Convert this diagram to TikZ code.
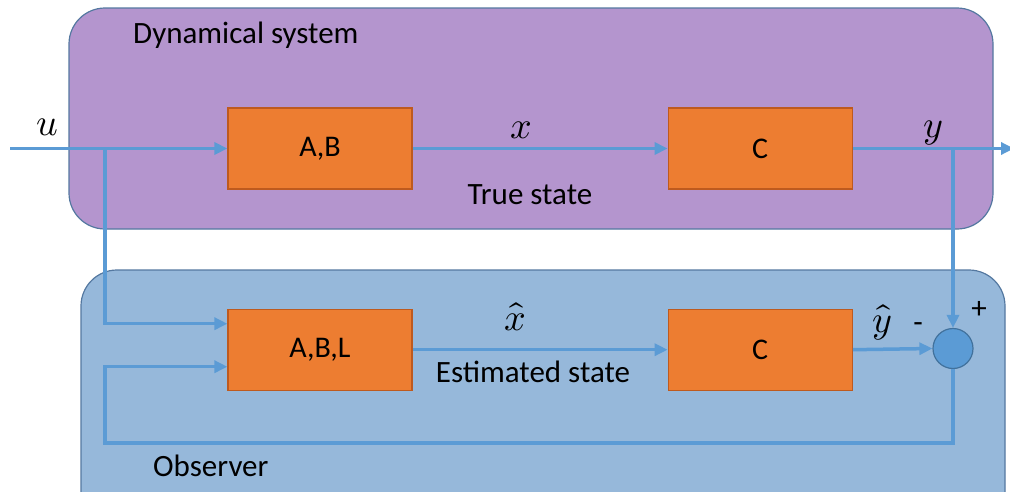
\documentclass[tikz,border=0pt]{standalone}
\usepackage{fontspec}
\usepackage{unicode-math}
\setmainfont{Carlito}
\setmathfont{Latin Modern Math}
\usetikzlibrary{arrows.meta, positioning}

\definecolor{sysfill}{RGB}{180,149,206}
\definecolor{obsfill}{RGB}{150,184,218}
\definecolor{frameline}{RGB}{84,120,160}
\definecolor{blockfill}{RGB}{237,125,49}
\definecolor{blockline}{RGB}{190,90,30}
\definecolor{sigline}{RGB}{91,155,213}
\definecolor{sumline}{RGB}{65,113,156}

\tikzset{
  panel/.style={draw=frameline, line width=1.2pt, rounded corners=36pt},
  block/.style={draw=blockline, fill=blockfill, line width=1.2pt,
                minimum width=184pt, minimum height=81pt, inner sep=0pt,
                font=\fontsize{30}{34}\selectfont},
  signal/.style={draw=sigline, line width=3.5pt, -{Triangle[length=13pt,width=12pt]}},
  sumnode/.style={circle, draw=sumline, fill=sigline, line width=1.2pt,
                  minimum size=40pt, inner sep=0pt},
  lbl/.style={font=\fontsize{31}{36}\selectfont, inner sep=1pt},
  sym/.style={font=\fontsize{38}{44}\selectfont, inner sep=1pt}
}

\begin{document}
\begin{tikzpicture}[x=1pt, y=-1pt]
    \useasboundingbox (0,0) rectangle (1010,491);

    % Panels:
    \draw[panel, fill=sysfill] (69,8) rectangle (993,229);
    \draw[panel, fill=obsfill] (81,270) rectangle (1005,540);
    \node[lbl, anchor=west] (systitle) at (132,35) {Dynamical system};
    \node[lbl, anchor=west] (obstitle) at (152,466) {Observer};

    % Blocks:
    \node[block] (ab) at (320,148.5) {A,B};
    \node[block, right=255pt of ab] (c1) {C};
    \node[block, below=119pt of ab] (abl) {A,B,L};
    \node[block, below=119pt of c1] (c2) {C};
    \node[sumnode] (sum) at (953,348.5) {};

    % Junctions:
    \coordinate (uin) at (10,148.5);
    \coordinate (usplit) at (105,148.5);
    \coordinate (yout) at (1014,148.5);
    \coordinate (ysplit) at (953,148.5);
    \coordinate (fbr) at (953,443);
    \coordinate (fbl) at (105,443);

    % Signals:
    \draw[signal] (uin) -- (ab.west);
    \draw[signal] (usplit) |- ([yshift=26pt]abl.west);
    \draw[signal] (ab.east) -- (c1.west);
    \draw[signal] (c1.east) -- (yout);
    \draw[signal] (ysplit) -- (sum.north);
    \draw[signal] (abl.east) -- (c2.west);
    \draw[signal] (c2.east) -- (sum.west);
    \draw[signal] (sum.south) -- (fbr) -- (fbl) |- ([yshift=-17pt]abl.west);

    % Labels:
    \node[sym] (ulbl) at (47,127) {$u$};
    \node[sym] (xlbl) at (521,130) {$x$};
    \node[sym] (ylbl) at (933,133) {$y$};
    \node[sym] (xhlbl) at (515,317) {$\hat{x}$};
    \node[sym] (yhlbl) at (882,322) {$\hat{y}$};
    \node[lbl] (minus) at (918,328) {-};
    \node[lbl] (plus) at (979,310) {+};
    \node[lbl] (truelbl) at (530,195) {True state};
    \node[lbl] (estlbl) at (533,372) {Estimated state};
\end{tikzpicture}
\end{document}
